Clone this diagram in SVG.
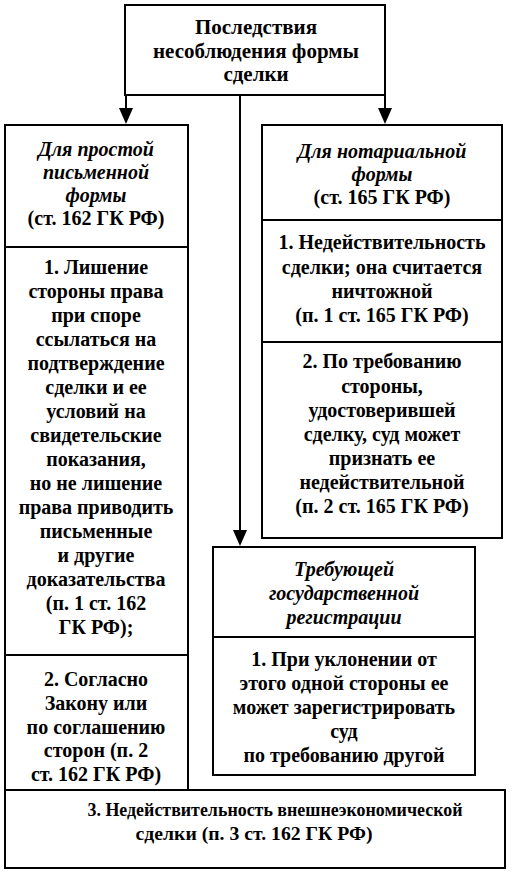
<svg xmlns="http://www.w3.org/2000/svg" width="514" height="881" viewBox="0 0 514 881">
<style>
.b{fill:#fff;stroke:#000;stroke-width:2}
.d{stroke:#000;stroke-width:2}
text{font-family:"Liberation Serif","Times New Roman",serif;font-size:20px;font-weight:bold;text-anchor:middle;fill:#000}
.i{font-style:italic}
.t{font-size:21px}
.s{font-size:19px}
.c{stroke:#000;stroke-width:2;fill:none}
.h{fill:#000}
</style>
<defs>
<path id="ah" d="M-7,-16 L7,-16 L0,0 Z"/>
</defs>
<g id="top">
<rect class="b" x="125" y="5" width="260" height="90"/>
<text class="t" x="256" y="34">Последствия</text>
<text class="t" x="256" y="58">несоблюдения формы</text>
<text class="t" x="256" y="81">сделки</text>
</g>
<g id="left">
<rect class="b" x="5" y="125" width="183" height="665"/>
<line class="d" x1="5" y1="247" x2="188" y2="247"/>
<line class="d" x1="5" y1="655" x2="188" y2="655"/>
<text class="i" x="96" y="156">Для простой</text>
<text class="i" x="96" y="179">письменной</text>
<text class="i" x="96" y="202">формы</text>
<text x="96" y="225">(ст. 162 ГК РФ)</text>
<text x="96" y="274">1. Лишение</text>
<text x="96" y="298">стороны права</text>
<text x="96" y="322">при споре</text>
<text x="96" y="346">ссылаться на</text>
<text x="96" y="370">подтверждение</text>
<text x="96" y="394">сделки и ее</text>
<text x="96" y="418">условий на</text>
<text x="96" y="442">свидетельские</text>
<text x="96" y="466">показания,</text>
<text x="96" y="490">но не лишение</text>
<text x="96" y="514">права приводить</text>
<text x="96" y="538">письменные</text>
<text x="96" y="562">и другие</text>
<text x="96" y="586">доказательства</text>
<text x="96" y="610">(п. 1 ст. 162</text>
<text x="96" y="634">ГК РФ);</text>
<text x="96" y="686">2. Согласно</text>
<text x="96" y="710">Закону или</text>
<text x="96" y="734">по соглашению</text>
<text x="96" y="757">сторон (п. 2</text>
<text x="96" y="781">ст. 162 ГК РФ)</text>
</g>
<g id="right">
<rect class="b" x="262" y="125" width="240" height="413"/>
<line class="d" x1="262" y1="220" x2="502" y2="220"/>
<line class="d" x1="262" y1="342" x2="502" y2="342"/>
<text class="i" x="382" y="158">Для нотариальной</text>
<text class="i" x="382" y="181">формы</text>
<text x="382" y="204">(ст. 165 ГК РФ)</text>
<text x="382" y="249">1. Недействительность</text>
<text x="382" y="274">сделки; она считается</text>
<text x="382" y="298">ничтожной</text>
<text x="382" y="322">(п. 1 ст. 165 ГК РФ)</text>
<text x="382" y="368">2. По требованию</text>
<text x="382" y="393">стороны,</text>
<text x="382" y="417">удостоверившей</text>
<text x="382" y="441">сделку, суд может</text>
<text x="382" y="465">признать ее</text>
<text x="382" y="489">недействительной</text>
<text x="382" y="513">(п. 2 ст. 165 ГК РФ)</text>
</g>
<g id="registration">
<rect class="b" x="213" y="547" width="262" height="228"/>
<line class="d" x1="213" y1="637" x2="475" y2="637"/>
<text class="i" x="344" y="576">Требующей</text>
<text class="i" x="344" y="600">государственной</text>
<text class="i" x="344" y="624">регистрации</text>
<text x="344" y="666">1. При уклонении от</text>
<text x="344" y="690">этого одной стороны ее</text>
<text x="344" y="714">может зарегистрировать</text>
<text x="344" y="738">суд</text>
<text x="344" y="762">по требованию другой</text>
</g>
<g id="bottom">
<rect class="b" x="5" y="790" width="500" height="78"/>
<text class="s" x="275" y="816" textLength="375" lengthAdjust="spacingAndGlyphs">3. Недействительность внешнеэкономической</text>
<text class="s" x="254" y="840" textLength="237" lengthAdjust="spacingAndGlyphs">сделки (п. 3 ст. 162 ГК РФ)</text>
</g>
<g id="connectors">
<path class="c" d="M126,95 V110"/>
<path class="c" d="M385,95 V110"/>
<path class="c" d="M240,95 V532"/>
<use href="#ah" class="h" x="126" y="124"/>
<use href="#ah" class="h" x="385" y="124"/>
<use href="#ah" class="h" x="240" y="546"/>
</g>
</svg>
